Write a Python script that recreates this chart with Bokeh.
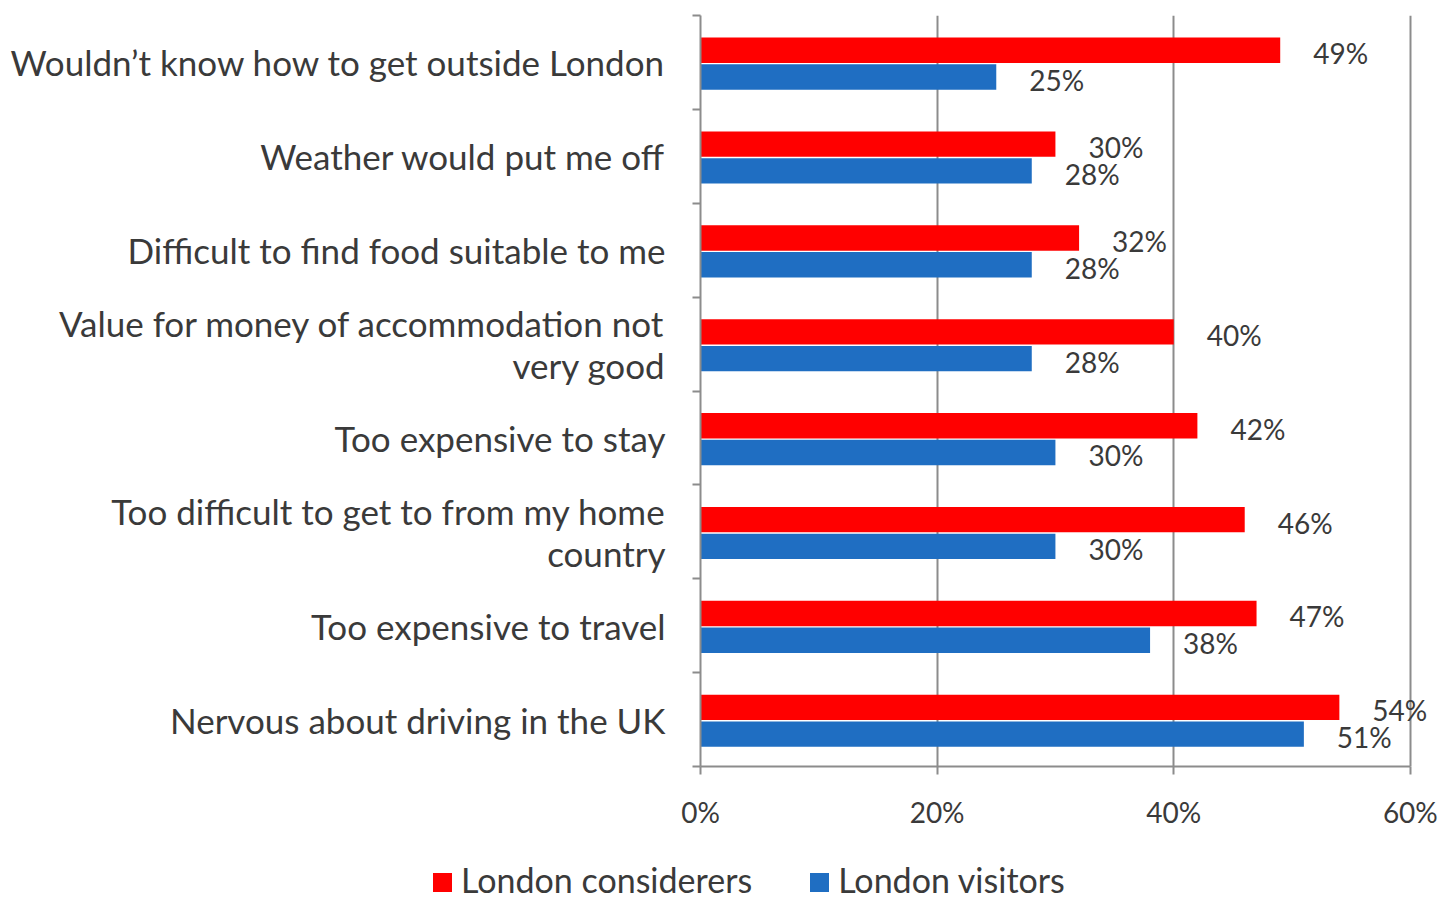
from bokeh.plotting import figure
from bokeh.layouts import column
from bokeh.models import (ColumnDataSource, Range1d, FixedTicker, Div)
from bokeh.embed import file_html
from bokeh.resources import INLINE
from bokeh.core.properties import value

categories = [
    "Wouldn\u2019t know how to get outside London",
    "Weather would put me off",
    "Difficult to find food suitable to me",
    "Value for money of accommodation not\nvery good",
    "Too expensive to stay",
    "Too difficult to get to from my home\ncountry",
    "Too expensive to travel",
    "Nervous about driving in the UK",
]
considerers = [49, 30, 32, 40, 42, 46, 47, 54]
visitors = [25, 28, 28, 28, 30, 30, 38, 51]
x_ticks = [0, 20, 40, 60]
series_names = ["London considerers", "London visitors"]

RED = "#FF0000"
BLUE = "#1F6EC2"
TXT = "#3A3A3A"
FONT = "Lato"

n = len(categories)
pos = [n - 1 - i + 0.5 for i in range(n)]

src = ColumnDataSource(dict(
    y=pos,
    yr=[p + 0.13 for p in pos],
    yb=[p - 0.155 for p in pos],
    cons=considerers,
    vis=visitors,
    cons_lbl=[f"{v}%" for v in considerers],
    vis_lbl=[f"{v}%" for v in visitors],
))

p = figure(width=1447, height=840, output_backend="svg", toolbar_location=None,
           x_range=Range1d(0, 63.14), y_range=Range1d(0, n),
           min_border_left=700, min_border_right=0, min_border_top=15,
           min_border_bottom=74)
p.outline_line_color = None
p.background_fill_color = "white"

p.hbar(y="yr", right="cons", left=0, height=0.27, source=src,
       fill_color=RED, line_color=None)
p.hbar(y="yb", right="vis", left=0, height=0.27, source=src,
       fill_color=BLUE, line_color=None)

p.text(x="cons", y="yr", text="cons_lbl", source=src, x_offset=33, y_offset=3,
       text_align="left", text_baseline="middle", text_font=value(FONT),
       text_font_size="28px", text_color=TXT)
p.text(x="vis", y="yb", text="vis_lbl", source=src, x_offset=33, y_offset=3,
       text_align="left", text_baseline="middle", text_font=value(FONT),
       text_font_size="28px", text_color=TXT)

# x axis
xa = p.xaxis[0]
xa.ticker = FixedTicker(ticks=x_ticks)
xa.bounds = (0, 60)
xa.major_label_overrides = {t: f"{t}%" for t in x_ticks}
xa.axis_line_color = "#8C8C8C"
xa.axis_line_width = 2
xa.major_tick_line_color = "#8C8C8C"
xa.major_tick_line_width = 2
xa.major_tick_out = 8
xa.major_tick_in = 0
xa.minor_tick_line_color = None
xa.major_label_standoff = 20
xa.major_label_text_font = FONT
xa.major_label_text_font_size = "28px"
xa.major_label_text_color = TXT

# y axis
ya = p.yaxis[0]
ya.ticker = FixedTicker(ticks=pos, minor_ticks=list(range(n + 1)))
ya.major_label_overrides = {p_: c for p_, c in zip(pos, categories)}
ya.axis_line_color = "#8C8C8C"
ya.axis_line_width = 2
ya.major_tick_line_color = None
ya.major_tick_out = 0
ya.major_tick_in = 0
ya.minor_tick_line_color = "#8C8C8C"
ya.minor_tick_line_width = 2
ya.minor_tick_out = 8
ya.minor_tick_in = 0
ya.major_label_standoff = 27
ya.major_label_text_font = FONT
ya.major_label_text_font_size = "35px"
ya.major_label_text_color = TXT
ya.major_label_text_line_height = 1.0

p.xgrid.ticker = FixedTicker(ticks=[20, 40, 60])
p.xgrid.grid_line_color = "#8C8C8C"
p.xgrid.grid_line_width = 2
p.ygrid.grid_line_color = None

# legend strip below the chart
def swatch(color):
    return (f'<span style="display:inline-block;width:19px;height:19px;'
            f'background:{color};margin-right:9px;vertical-align:middle;'
            f'position:relative;top:-2px"></span>')

legend_html = (
    f'<div style="font-family:{FONT};font-size:34px;color:{TXT};'
    f'padding-left:433px;padding-top:24px;line-height:32px;white-space:nowrap">'
    f'{swatch(RED)}{series_names[0]}'
    f'<span style="display:inline-block;width:58px"></span>'
    f'{swatch(BLUE)}{series_names[1]}</div>'
)
legend_div = Div(text=legend_html, width=1447, height=60, margin=0)

layout = column(p, legend_div, spacing=0)
open("out.html", "w").write(file_html(layout, INLINE))
